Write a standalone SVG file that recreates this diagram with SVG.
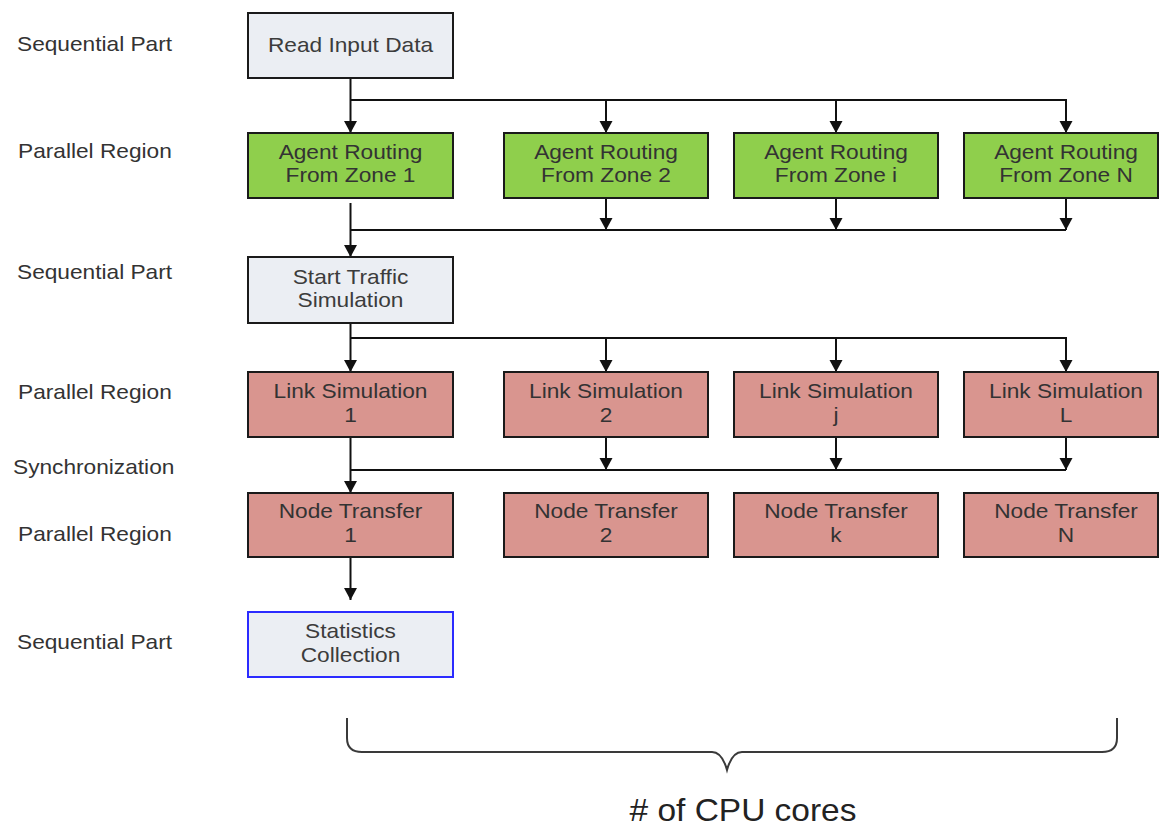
<svg xmlns="http://www.w3.org/2000/svg" width="1159" height="831" viewBox="0 0 1159 831">
<style>
.box{stroke:#1a1a1a;stroke-width:2}
.seq{fill:#ebeef3}
.grn{fill:#8fcf4c}
.red{fill:#d9958f}
.t{font-family:"Liberation Sans",Arial,sans-serif;font-size:20px;fill:#333;text-anchor:middle}
.tg{fill:#3c3c3c}
.lbl{font-family:"Liberation Sans",Arial,sans-serif;font-size:20px;fill:#333}
.ln{stroke:#111;stroke-width:2;fill:none}
</style>
<defs>
<marker id="ah" markerUnits="userSpaceOnUse" markerWidth="14" markerHeight="14" refX="12" refY="6.5" orient="auto">
<path d="M0,0 L12,6.5 L0,13 z" fill="#111"/>
</marker>
</defs>
<rect width="1159" height="831" fill="#fff"/>

<g id="labels">
<text class="lbl" transform="translate(17,51) scale(1.135,1)">Sequential Part</text>
<text class="lbl" transform="translate(18,158) scale(1.135,1)">Parallel Region</text>
<text class="lbl" transform="translate(17,279) scale(1.135,1)">Sequential Part</text>
<text class="lbl" transform="translate(18,399) scale(1.135,1)">Parallel Region</text>
<text class="lbl" transform="translate(13,474) scale(1.135,1)">Synchronization</text>
<text class="lbl" transform="translate(18,541) scale(1.135,1)">Parallel Region</text>
<text class="lbl" transform="translate(17,649) scale(1.135,1)">Sequential Part</text>
</g>

<g id="connectors">
<path class="ln" d="M350.5,78 V133" marker-end="url(#ah)"/>
<path class="ln" d="M350.5,100 H606 V133" marker-end="url(#ah)"/>
<path class="ln" d="M606,100 H836 V133" marker-end="url(#ah)"/>
<path class="ln" d="M836,100 H1066 V133" marker-end="url(#ah)"/>

<path class="ln" d="M350.5,203 V257" marker-end="url(#ah)"/>
<path class="ln" d="M350.5,230 H1066"/>
<path class="ln" d="M606,198 V230" marker-end="url(#ah)"/>
<path class="ln" d="M836,198 V230" marker-end="url(#ah)"/>
<path class="ln" d="M1066,198 V230" marker-end="url(#ah)"/>

<path class="ln" d="M350.5,323 V372" marker-end="url(#ah)"/>
<path class="ln" d="M350.5,338 H606 V372" marker-end="url(#ah)"/>
<path class="ln" d="M606,338 H836 V372" marker-end="url(#ah)"/>
<path class="ln" d="M836,338 H1066 V372" marker-end="url(#ah)"/>

<path class="ln" d="M350.5,437 V493" marker-end="url(#ah)"/>
<path class="ln" d="M350.5,470 H1066"/>
<path class="ln" d="M606,437 V470" marker-end="url(#ah)"/>
<path class="ln" d="M836,437 V470" marker-end="url(#ah)"/>
<path class="ln" d="M1066,437 V470" marker-end="url(#ah)"/>

<path class="ln" d="M350.5,557 V600" marker-end="url(#ah)"/>
</g>

<g id="read-input">
<rect class="box seq" x="248" y="13" width="205" height="65"/>
<text class="t tg" transform="translate(350.5,52) scale(1.135,1)">Read Input Data</text>
</g>

<g id="agent-1">
<rect class="box grn" x="248" y="133" width="205" height="65"/>
<text class="t" transform="translate(350.5,159) scale(1.135,1)">Agent Routing</text>
<text class="t" transform="translate(350.5,182) scale(1.135,1)">From Zone 1</text>
</g>
<g id="agent-2">
<rect class="box grn" x="504" y="133" width="204" height="65"/>
<text class="t" transform="translate(606,159) scale(1.135,1)">Agent Routing</text>
<text class="t" transform="translate(606,182) scale(1.135,1)">From Zone 2</text>
</g>
<g id="agent-i">
<rect class="box grn" x="734" y="133" width="204" height="65"/>
<text class="t" transform="translate(836,159) scale(1.135,1)">Agent Routing</text>
<text class="t" transform="translate(836,182) scale(1.135,1)">From Zone i</text>
</g>
<g id="agent-N">
<rect class="box grn" x="964" y="133" width="194" height="65"/>
<text class="t" transform="translate(1066,159) scale(1.135,1)">Agent Routing</text>
<text class="t" transform="translate(1066,182) scale(1.135,1)">From Zone N</text>
</g>

<g id="start-traffic">
<rect class="box seq" x="248" y="257" width="205" height="66"/>
<text class="t tg" transform="translate(350.5,284) scale(1.135,1)">Start Traffic</text>
<text class="t tg" transform="translate(350.5,307) scale(1.135,1)">Simulation</text>
</g>

<g id="link-1">
<rect class="box red" x="248" y="372" width="205" height="65"/>
<text class="t" transform="translate(350.5,398) scale(1.135,1)">Link Simulation</text>
<text class="t" transform="translate(350.5,422) scale(1.135,1)">1</text>
</g>
<g id="link-2">
<rect class="box red" x="504" y="372" width="204" height="65"/>
<text class="t" transform="translate(606,398) scale(1.135,1)">Link Simulation</text>
<text class="t" transform="translate(606,422) scale(1.135,1)">2</text>
</g>
<g id="link-j">
<rect class="box red" x="734" y="372" width="204" height="65"/>
<text class="t" transform="translate(836,398) scale(1.135,1)">Link Simulation</text>
<text class="t" transform="translate(836,422) scale(1.135,1)">j</text>
</g>
<g id="link-L">
<rect class="box red" x="964" y="372" width="194" height="65"/>
<text class="t" transform="translate(1066,398) scale(1.135,1)">Link Simulation</text>
<text class="t" transform="translate(1066,422) scale(1.135,1)">L</text>
</g>

<g id="node-1">
<rect class="box red" x="248" y="493" width="205" height="64"/>
<text class="t" transform="translate(350.5,518) scale(1.135,1)">Node Transfer</text>
<text class="t" transform="translate(350.5,542) scale(1.135,1)">1</text>
</g>
<g id="node-2">
<rect class="box red" x="504" y="493" width="204" height="64"/>
<text class="t" transform="translate(606,518) scale(1.135,1)">Node Transfer</text>
<text class="t" transform="translate(606,542) scale(1.135,1)">2</text>
</g>
<g id="node-k">
<rect class="box red" x="734" y="493" width="204" height="64"/>
<text class="t" transform="translate(836,518) scale(1.135,1)">Node Transfer</text>
<text class="t" transform="translate(836,542) scale(1.135,1)">k</text>
</g>
<g id="node-N">
<rect class="box red" x="964" y="493" width="194" height="64"/>
<text class="t" transform="translate(1066,518) scale(1.135,1)">Node Transfer</text>
<text class="t" transform="translate(1066,542) scale(1.135,1)">N</text>
</g>

<g id="statistics">
<rect class="seq" x="248" y="612" width="205" height="65" stroke="#2b2bff" stroke-width="2"/>
<text class="t tg" transform="translate(350.5,638) scale(1.135,1)">Statistics</text>
<text class="t tg" transform="translate(350.5,662) scale(1.135,1)">Collection</text>
</g>

<g id="brace">
<path d="M347,718 V738 Q347,752 362,752 H712 Q722,752 727,770 Q732,752 742,752 H1102 Q1117,752 1117,738 V718" fill="none" stroke="#3a3a3a" stroke-width="2"/>
<text transform="translate(743,821) scale(1.08,1)" font-family="'Liberation Sans',Arial,sans-serif" font-size="31" fill="#222" text-anchor="middle">
# of CPU cores</text>
</g>
</svg>
